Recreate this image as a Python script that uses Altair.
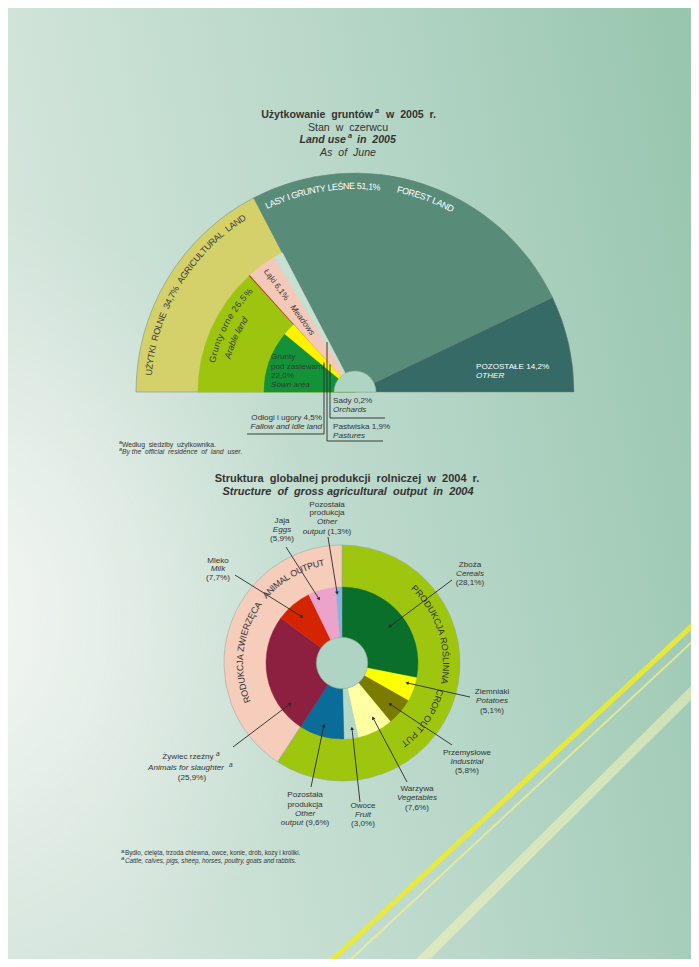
import math
import altair as alt
import pandas as pd

# ============================ DATA ============================
# Land use 2005 (% of total area)
land_labels = ["Użytki rolne", "Lasy i grunty leśne", "Pozostałe"]
land_values = [34.7, 51.1, 14.2]
# Agricultural land breakdown
agri_labels = ["Grunty orne", "Sady", "Łąki", "Pastwiska"]
agri_values = [26.5, 0.2, 6.1, 1.9]
# Arable land breakdown
arable_labels = ["Grunty pod zasiewami", "Odłogi i ugory"]
arable_values = [22.0, 4.5]

# Gross agricultural output 2004 (%)
crop_labels = ["Zboża", "Ziemniaki", "Przemysłowe", "Warzywa", "Owoce", "Pozostała roślinna"]
crop_values = [28.1, 5.1, 5.8, 7.6, 3.0, 9.6]
animal_labels = ["Żywiec rzeźny", "Mleko", "Jaja", "Pozostała zwierzęca"]
animal_values = [25.9, 7.7, 5.9, 1.3]
output_labels = ["Produkcja roślinna", "Produkcja zwierzęca"]
output_values = [round(sum(crop_values), 1), round(sum(animal_values), 1)]

# ============================ STYLE ============================
land_colors = ["#d4d16b", "#598b79", "#356a66"]
agri_colors = ["#9dc40e", "#b22b1c", "#f5c9b9", "#c6e0d2"]
arable_colors = ["#14923a", "#fff200"]
crop_colors = ["#0b6f2c", "#ffff00", "#7b7b02", "#ffffa3", "#b3d8c8", "#0a6c98"]
animal_colors = ["#8d1f40", "#d52402", "#eba3cb", "#84b4da"]
output_colors = ["#9fc60e", "#f6ccba"]

FONT = "Liberation Sans, Arial, Helvetica, sans-serif"
DARK = "#333333"
BG = "#b4d6c5"
HOLE = "#afd4c4"
LFS = 8.1  # label font size
TFS = 10.6  # title font size

# ============================ LAYOUT ============================
OFF = 8
W, H = 683, 951
TCX, TCY, TR = 355, 392, 219
R_ARABLE, R_SOWN, R_HOLE_T = 157, 91, 21
BCX, BCY = 342, 663
BR_OUT, BR_IN, BR_HOLE = 118, 76, 29

XS = alt.Scale(domain=[OFF, OFF + W], nice=False, zero=False)
YS = alt.Scale(domain=[OFF, OFF + H], nice=False, zero=False, reverse=True)
TOP_THETA = alt.Scale(domain=[0, 100], range=[-math.pi / 2, math.pi / 2])
BOT_THETA = alt.Scale(domain=[0, 100], range=[0, 2 * math.pi])


def X(f):
    return alt.X(f, scale=XS, axis=None)


def Y(f):
    return alt.Y(f, scale=YS, axis=None)


def fmt(v):
    return f"{v:.1f}".replace(".", ",") + "%"


def wedges(labels, values, colors, start=0.0):
    rows, acc = [], start
    for l, v, c in zip(labels, values, colors):
        rows.append(dict(label=l, value=v, t0=acc, t1=acc + v, col=c))
        acc += v
    return pd.DataFrame(rows)


def arc_layer(df, cx, cy, r_out, tscale, r_in=0, stroke=None, sw=0.0):
    d = df.assign(cx=cx, cy=cy)
    enc = dict(
        x=X("cx:Q"), y=Y("cy:Q"),
        theta=alt.Theta("t0:Q", scale=tscale, stack=False),
        theta2=alt.Theta2("t1:Q"),
        radius=alt.value(r_out), radius2=alt.value(r_in),
        fill=alt.Fill("col:N", scale=None),
    )
    if stroke == "self":
        enc["stroke"] = alt.Stroke("col:N", scale=None)
        mk = alt.Chart(d).mark_arc(strokeWidth=sw)
    elif stroke:
        mk = alt.Chart(d).mark_arc(stroke=stroke, strokeWidth=sw)
    else:
        mk = alt.Chart(d).mark_arc(strokeWidth=0)
    return mk.encode(**enc)


# approximate Arial widths (1/1000 em)
AW = dict(zip("ABCDEFGHIJKLMNOPQRSTUVWXYZ",
              [667, 667, 722, 722, 667, 611, 778, 722, 278, 500, 667, 556, 833,
               722, 778, 667, 778, 722, 667, 611, 722, 667, 944, 667, 667, 611]))
AW.update(dict(zip("abcdefghijklmnopqrstuvwxyz",
                   [556, 556, 500, 556, 556, 278, 556, 556, 222, 222, 500, 222, 833,
                    556, 556, 556, 556, 333, 500, 278, 556, 500, 722, 500, 500, 500])))
AW.update({" ": 278, ",": 278, ".": 278, "%": 889, "(": 333, ")": 333})
for d_ in "0123456789":
    AW[d_] = 556
BASE = dict(zip("ŻŹŚĘŁĄÓĆŃżźśęłąóćń", "ZZSELAOCNzzselaocn"))


def cw(c):
    return AW.get(BASE.get(c, c), 556) / 1000.0


texts = []


def T(text, x, y, size=LFS, style="normal", weight="normal", color=DARK,
      align="center", angle=0.0):
    texts.append(dict(text=text, x=x, y=y, size=size, style=style, weight=weight,
                      color=color, align=align, angle=angle % 360))


def curved(text, cx, cy, r, a0, a1, size, color, style="normal"):
    ws = [cw(c) for c in text]
    cum, acc = [], 0.0
    for w in ws:
        cum.append(acc + w / 2)
        acc += w
    first, last = cum[0], cum[-1]
    for c, p in zip(text, cum):
        if c.strip() == "":
            continue
        a = a0 + (p - first) / (last - first) * (a1 - a0)
        rad = math.radians(a)
        T(c, cx + r * math.sin(rad), cy - r * math.cos(rad), size=size,
          style=style, color=color, angle=a)


def mixed(parts, xc, y, size=LFS):
    widths = [sum(cw(c) for c in t) * size for t, s in parts]
    x = xc - sum(widths) / 2
    for (t, s), w in zip(parts, widths):
        lead = (len(t) - len(t.lstrip())) * cw(" ") * size
        T(t.strip(), x + lead, y, size=size, style=s, align="left")
        x += w


NB = "\u00a0"

# ============================ BACKGROUND ============================
bg_df = pd.DataFrame({"k": [0]})
grad_lin = {"gradient": "linear", "x1": 0, "y1": 0.25, "x2": 1, "y2": 0,
            "stops": [{"offset": 0, "color": "#d4e5dc"},
                      {"offset": 0.5, "color": "#b7d7c8"},
                      {"offset": 1, "color": "#97c5ae"}]}
grad_rad = {"gradient": "radial", "x1": 0.03, "y1": 0.64, "r1": 0,
            "x2": 0.03, "y2": 0.64, "r2": 0.45,
            "stops": [{"offset": 0, "color": "rgba(249,250,248,1)"},
                      {"offset": 0.45, "color": "rgba(240,244,240,0.7)"},
                      {"offset": 1, "color": "rgba(225,236,230,0)"}]}
bg_layers = [
    alt.Chart(bg_df).mark_rect(fill=g).encode(
        x=alt.value(0), x2=alt.value(W), y=alt.value(0), y2=alt.value(H))
    for g in (grad_lin, grad_rad)
]

decor = pd.DataFrame([
    dict(x=420, y=962, x2=694, y2=690, w=10, color="#f6f4b8", op=0.55),
    dict(x=330, y=962, x2=694, y2=624, w=5, color="#ecea2c", op=0.9),
    dict(x=348, y=962, x2=694, y2=640, w=2, color="#f3f28a", op=0.7),
])
decor_layer = alt.Chart(decor).mark_rule(strokeCap="round").encode(
    x=X("x:Q"), y=Y("y:Q"), x2="x2:Q", y2="y2:Q",
    strokeWidth=alt.StrokeWidth("w:Q", scale=None),
    color=alt.Color("color:N", scale=None),
    opacity=alt.Opacity("op:Q", scale=None))

# ============================ TOP CHART ============================
land_df = wedges(land_labels, land_values, land_colors)
agri_df = wedges(agri_labels, agri_values, agri_colors)
arable_df = wedges(arable_labels, arable_values, arable_colors)
hole_top_df = pd.DataFrame([dict(label="hole", value=100, t0=0, t1=100, col=HOLE)])

top_layers = [
    arc_layer(land_df, TCX, TCY, TR, TOP_THETA, stroke="#6d8476", sw=0.5),
    arc_layer(agri_df, TCX, TCY, R_ARABLE, TOP_THETA, stroke="self", sw=0.6),
    arc_layer(arable_df, TCX, TCY, R_SOWN, TOP_THETA, stroke="self", sw=0.5),
    arc_layer(hole_top_df, TCX, TCY, R_HOLE_T, TOP_THETA, stroke="#8fb0a0", sw=0.5),
]


def mid_west(start, v):
    return (start + v / 2) * 1.8  # degrees from west in the semicircle


# leaders: vertical x, bottom y, other end of underline
leader_rows = []
for xl, yb, xe, ang in [
    (324, 434, 247, mid_west(arable_values[0], arable_values[1])),
    (330, 418, 385, mid_west(agri_values[0], agri_values[1])),
    (327, 441, 383, mid_west(sum(agri_values[:3]), agri_values[3])),
]:
    ytop = TCY - (TCX - xl) * math.tan(math.radians(ang))
    leader_rows.append(dict(x=xl, y=ytop, x2=xl, y2=yb))
    leader_rows.append(dict(x=min(xl, xe), y=yb, x2=max(xl, xe), y2=yb))
leaders = pd.DataFrame(leader_rows)

# top chart texts
T(f"Użytkowanie{NB} gruntów", 373, 115, size=TFS, weight="bold", align="right")
T("a", 375, 111, size=7.3, style="italic", weight="bold", align="left")
T(f"w{NB} 2005{NB} r.", 386, 115, size=TFS, weight="bold", align="left")
T(f"Stan{NB} w{NB} czerwcu", 348, 127.5, size=TFS)
T("Land use", 346, 140, size=TFS, style="italic", weight="bold", align="right")
T("a", 348, 136, size=7.3, style="italic", weight="bold", align="left")
T(f"in{NB} 2005", 357, 140, size=TFS, style="italic", weight="bold", align="left")
T(f"As{NB} of{NB} June", 348, 152.5, size=TFS, style="italic")

curved(f"UŻYTKI  ROLNE  {fmt(land_values[0])}  AGRICULTURAL  LAND",
       TCX, TCY, 207, 275.5, 327, 9, "#3a3a3a")
curved(f"LASY I GRUNTY LEŚNE {fmt(land_values[1])}", TCX, TCY, 206, 335, 366, 9, "#ffffff")
curved("FOREST LAND", TCX, TCY, 207, 12.5, 27.5, 9, "#ffffff")
curved(f"Grunty orne {fmt(agri_values[0])}", TCX, TCY, 146, 283, 313, 9, "#3a3a3a")
curved("Arable land", TCX, TCY, 132, 286, 303, 9, "#3a3a3a", style="italic")

m_ang = mid_west(agri_values[0] + agri_values[1], agri_values[2])
cm, sm = math.cos(math.radians(m_ang)), math.sin(math.radians(m_ang))
T(f"Łąki {fmt(agri_values[2])}", TCX - 133 * cm, TCY - 133 * sm, size=8.3, angle=m_ang, color="#3a3a3a")
T("Meadows", TCX - 89 * cm, TCY - 89 * sm, size=8.3, style="italic", angle=m_ang, color="#3a3a3a")

SOWN_C = "#2c3e2e"
T("Grunty", 271, 357, align="left", color=SOWN_C)
T("pod zasiewami", 271, 367, align="left", color=SOWN_C)
T(fmt(arable_values[0]), 271, 376, align="left", color=SOWN_C)
T("Sown area", 271, 385, style="italic", align="left", color=SOWN_C)

T(f"POZOSTAŁE {fmt(land_values[2])}", 476, 367, align="left", color="#ffffff")
T("OTHER", 476, 376, style="italic", align="left", color="#ffffff")

T(f"Sady {fmt(agri_values[1])}", 333, 401, align="left")
T("Orchards", 333, 410, style="italic", align="left")
T(f"Pastwiska {fmt(agri_values[3])}", 333, 427, align="left")
T("Pastures", 333, 436, style="italic", align="left")
T(f"Odłogi i ugory {fmt(arable_values[1])}", 322, 418, align="right")
T("Fallow and idle land", 322, 427, style="italic", align="right")

T("a", 119, 442, size=5.5, align="left")
T(f"Według{NB} siedziby{NB} użytkownika.", 122, 445, size=6.8, align="left")
T("a", 119, 449, size=5.5, style="italic", align="left")
T(f"By the{NB} official{NB} residence{NB} of{NB} land{NB} user.", 122, 452, size=6.8,
  style="italic", align="left")

# ============================ BOTTOM CHART ============================
out_df = wedges(output_labels, output_values, output_colors)
crop_df = wedges(crop_labels, crop_values, crop_colors)
animal_df = wedges(animal_labels, animal_values, animal_colors, start=sum(crop_values))

bot_layers = [
    arc_layer(out_df, BCX, BCY, BR_OUT, BOT_THETA, stroke="#8fa597", sw=0.5),
    arc_layer(crop_df, BCX, BCY, BR_IN, BOT_THETA, stroke="self", sw=0.4),
    arc_layer(animal_df, BCX, BCY, BR_IN, BOT_THETA, stroke="self", sw=0.4),
]

holes = pd.DataFrame([dict(x=BCX, y=BCY, s=math.pi * BR_HOLE ** 2)])
hole_layer = alt.Chart(holes).mark_point(shape="circle", filled=True, fill=HOLE,
                                         stroke="#8aa898", strokeWidth=0.6,
                                         opacity=1).encode(
    x=X("x:Q"), y=Y("y:Q"), size=alt.Size("s:Q", scale=None))

T(f"Struktura{NB} globalnej produkcji{NB} rolniczej{NB} w{NB} 2004{NB} r.", 347, 479,
  size=11, weight="bold")
T(f"Structure{NB} of{NB} gross agricultural{NB} output{NB} in{NB} 2004", 348, 492,
  size=11, weight="bold", style="italic")

curved("PRODUKCJA ROŚLINNA", BCX, BCY, 104, 44.5, 100, 9, DARK)
curved("CROP OUT PUT", BCX, BCY, 102, 107, 142, 9, DARK)
curved("RODUKCJA ZWIERZĘCA", BCX, BCY, 102, 249, 304.5, 9, DARK)
curved("ANIMAL OUTPUT", BCX, BCY, 102, 312, 348.5, 9, DARK)

all_vals = crop_values + animal_values
all_starts = []
acc = 0.0
for v in all_vals:
    all_starts.append(acc)
    acc += v

# (index in all_vals, centre x, [(text, style, y)], y of %, tail, frac in slice, tip radius)
label_specs = [
    (0, 470, [("Zboża", "normal", 565), ("Cereals", "italic", 574)], 583, (452, 580), 0.52, 60),
    (1, 492, [("Ziemniaki", "normal", 692), ("Potatoes", "italic", 701)], 711, (470, 697), 0.32, 68),
    (2, 467, [("Przemysłowe", "normal", 753), ("Industrial", "italic", 762)], 771, (452, 745), 0.53, 63),
    (3, 417, [("Warzywa", "normal", 789), ("Vegetables", "italic", 798)], 808, (407, 782), 0.37, 63),
    (4, 363, [("Owoce", "normal", 806), ("Fruit", "italic", 815)], 824, (360, 802), 0.33, 66),
    (8, 282, [("Jaja", "normal", 521), ("Eggs", "italic", 530)], 539, (286, 547), 0.29, 68),
    (7, 218, [("Mleko", "normal", 561), ("Milk", "italic", 569)], 578, (235, 575), 0.46, 61),
]
for idx, xc, lines, ypct, tail, frac, rr in label_specs:
    for t, s, yy in lines:
        T(t, xc, yy, style=s)
    T(f"({fmt(all_vals[idx])})", xc, ypct)

# other crop output
T("Pozostała", 305, 795)
T("produkcja", 305, 805)
T("Other", 305, 814, style="italic")
mixed([("output", "italic"), (f" ({fmt(crop_values[5])})", "normal")], 305, 823)
# other animal output
T("Pozostała", 327, 505)
T("produkcja", 327, 513)
T("Other", 327, 522, style="italic")
mixed([("output", "italic"), (f" ({fmt(animal_values[3])})", "normal")], 327, 532)
# animals for slaughter
T("Żywiec rzeźny", 188, 757)
T("a", 216, 754, size=6.5, style="italic", align="left")
T("Animals for slaughter", 186, 768, style="italic")
T("a", 229, 765, size=6.5, style="italic", align="left")
T(f"({fmt(animal_values[0])})", 192, 778)

arrow_specs = [(s[0], s[4], s[5], s[6]) for s in label_specs] + [
    (5, (311, 787), 0.51, 65),   # other crop output
    (9, (328, 537), 0.15, 70),   # other animal output
    (6, (233, 747), 0.20, 66),   # animals for slaughter
]

arrow_rows, head_rows = [], []
for idx, tail, frac, rr in arrow_specs:
    ang = (all_starts[idx] + frac * all_vals[idx]) * 3.6
    rad = math.radians(ang)
    tx, ty = BCX + rr * math.sin(rad), BCY - rr * math.cos(rad)
    arrow_rows.append(dict(x=tail[0], y=tail[1], x2=tx, y2=ty))
    bearing = math.degrees(math.atan2(tx - tail[0], -(ty - tail[1]))) % 360
    head_rows.append(dict(x=tx, y=ty, ang=bearing))

T("a", 121, 851, size=6, align="left")
T("Bydło, cielęta, trzoda chlewna, owce, konie, drób, kozy i króliki.", 125, 853,
  size=6.3, align="left")
T("a", 121, 858, size=6, style="italic", align="left")
T("Cattle, calves, pigs, sheep, horses, poultry, goats and rabbits.", 125, 861,
  size=6.3, style="italic", align="left")

# ============================ LINES / HEADS ============================
def rule_layer(df):
    return alt.Chart(df).mark_rule(color="#2a2a2a", strokeWidth=0.9).encode(
        x=X("x:Q"), y=Y("y:Q"), x2="x2:Q", y2="y2:Q")


leader_layer = rule_layer(leaders)
arrow_layer = rule_layer(pd.DataFrame(arrow_rows))
head_layer = alt.Chart(pd.DataFrame(head_rows)).mark_point(
    shape="triangle-up", filled=True, size=14, color="#2a2a2a", opacity=1).encode(
    x=X("x:Q"), y=Y("y:Q"), angle=alt.Angle("ang:Q", scale=None))

# ============================ TEXT LAYERS ============================
tdf = pd.DataFrame(texts)
text_layers = []
for (style, weight, align), g in tdf.groupby(["style", "weight", "align"]):
    text_layers.append(
        alt.Chart(g.reset_index(drop=True)).mark_text(
            font=FONT, fontStyle=style, fontWeight=weight, align=align,
            baseline="middle").encode(
            x=X("x:Q"), y=Y("y:Q"), text=alt.Text("text:N"),
            size=alt.Size("size:Q", scale=None),
            angle=alt.Angle("angle:Q", scale=None),
            color=alt.Color("color:N", scale=None)))

chart = alt.layer(
    *bg_layers, decor_layer, *top_layers, leader_layer, *bot_layers, hole_layer,
    arrow_layer, head_layer, *text_layers
).resolve_scale(theta="independent").properties(
    width=W, height=H, padding=0, autosize=alt.AutoSizeParams(type="none")
).configure_view(stroke=None).configure(background=BG)

chart.save("out.html", embed_options={"renderer": "svg", "actions": False})
